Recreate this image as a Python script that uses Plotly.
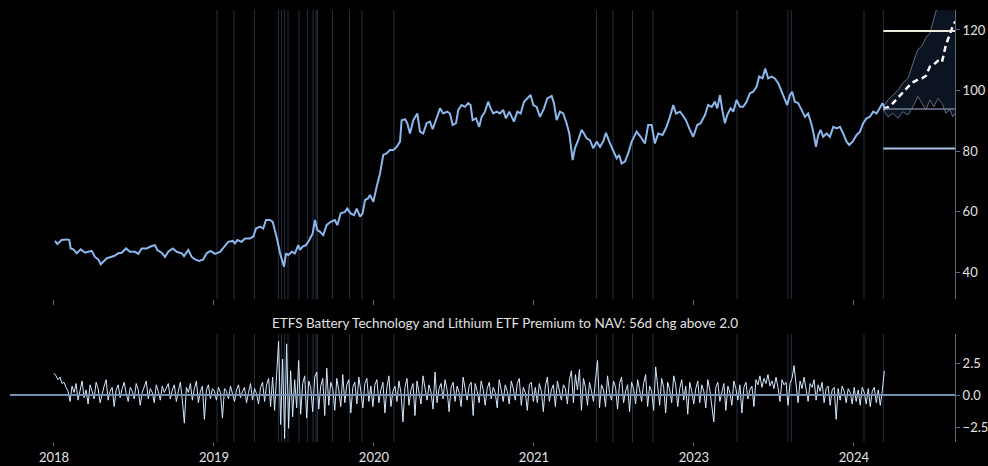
import numpy as np
import plotly.graph_objects as go

# ---------------- data ----------------
# time axis: 0 = first labelled tick, one unit per labelled period
tick_vals = [0, 1, 2, 3, 4, 5]
tick_text = ["2018", "2019", "2020", "2021", "2023", "2024"]

price_t = [0.006, 0.021, 0.048, 0.079, 0.096, 0.104, 0.121, 0.142, 0.167, 0.194, 0.214, 0.236, 0.256, 0.277,
           0.292, 0.308, 0.329, 0.350, 0.375, 0.402, 0.423, 0.450, 0.475, 0.506, 0.527, 0.548, 0.579, 0.611,
           0.631, 0.646, 0.673, 0.694, 0.714, 0.742, 0.767, 0.798, 0.813, 0.839, 0.861, 0.881, 0.908, 0.933,
           0.954, 0.979, 1.006, 1.038, 1.063, 1.089, 1.117, 1.131, 1.146, 1.173, 1.194, 1.225, 1.246, 1.263,
           1.288, 1.308, 1.325, 1.350, 1.367, 1.381, 1.396, 1.413, 1.429, 1.438, 1.450, 1.464, 1.486, 1.506,
           1.527, 1.538, 1.554, 1.575, 1.596, 1.617, 1.631, 1.646, 1.663, 1.683, 1.704, 1.729, 1.756, 1.771,
           1.792, 1.819, 1.833, 1.854, 1.875, 1.892, 1.913, 1.929, 1.944, 1.964, 1.975, 1.996, 2.017, 2.038,
           2.058, 2.079, 2.100, 2.121, 2.142, 2.163, 2.173, 2.194, 2.208, 2.225, 2.246, 2.271, 2.288, 2.308,
           2.329, 2.350, 2.367, 2.392, 2.413, 2.433, 2.458, 2.475, 2.492, 2.513, 2.527, 2.548, 2.569, 2.589,
           2.604, 2.617, 2.638, 2.658, 2.673, 2.694, 2.714, 2.729, 2.746, 2.767, 2.788, 2.808, 2.825, 2.846,
           2.861, 2.875, 2.896, 2.917, 2.938, 2.964, 2.979, 2.996, 3.017, 3.038, 3.063, 3.083, 3.111, 3.125,
           3.142, 3.163, 3.183, 3.204, 3.221, 3.242, 3.256, 3.277, 3.298, 3.313, 3.329, 3.350, 3.371, 3.392,
           3.413, 3.433, 3.450, 3.471, 3.496, 3.517, 3.533, 3.548, 3.569, 3.589, 3.611, 3.642, 3.667, 3.694,
           3.714, 3.736, 3.756, 3.777, 3.804, 3.829, 3.850, 3.871, 3.888, 3.913, 3.929, 3.950, 3.975, 3.996,
           4.021, 4.042, 4.069, 4.089, 4.111, 4.131, 4.146, 4.163, 4.179, 4.194, 4.208, 4.229, 4.246, 4.267,
           4.288, 4.308, 4.329, 4.350, 4.371, 4.392, 4.408, 4.429, 4.446, 4.464, 4.486, 4.506, 4.527, 4.548,
           4.569, 4.583, 4.600, 4.614, 4.631, 4.652, 4.673, 4.694, 4.714, 4.736, 4.750, 4.763, 4.777, 4.792,
           4.808, 4.829, 4.850, 4.871, 4.892, 4.913, 4.933, 4.954, 4.971, 4.992, 5.017, 5.038, 5.058, 5.079,
           5.100, 5.121, 5.142, 5.163, 5.179, 5.194]
price_v = [50.3, 49.3, 50.6, 50.8, 50.6, 47.8, 47.5, 46.2, 47.5, 46.4, 46.7, 47.0, 45.0, 44.2,
           42.6, 43.4, 44.5, 44.9, 45.3, 46.2, 46.4, 47.8, 46.7, 46.7, 46.0, 47.8, 47.8, 48.6,
           48.9, 47.3, 46.4, 45.0, 46.7, 47.8, 46.7, 46.2, 45.3, 47.3, 45.0, 44.2, 43.7, 44.2,
           46.2, 47.0, 46.0, 46.7, 48.2, 50.0, 50.3, 49.5, 50.6, 50.0, 51.1, 51.1, 51.7, 54.4,
           55.0, 54.4, 57.2, 57.2, 56.6, 53.9, 50.6, 46.2, 42.9, 41.8, 46.2, 45.6, 46.7, 46.2,
           48.9, 47.3, 48.4, 48.9, 50.6, 52.8, 57.2, 53.9, 53.3, 52.2, 55.5, 56.6, 57.2, 55.5,
           59.4, 59.9, 61.0, 59.4, 58.8, 61.0, 58.3, 59.4, 63.8, 64.4, 65.5, 63.2, 68.2, 72.6,
           78.7, 79.2, 80.3, 80.3, 81.4, 83.1, 90.2, 90.5, 89.2, 85.8, 90.2, 92.4, 86.4, 85.8,
           89.2, 89.7, 87.2, 90.8, 94.1, 92.4, 93.0, 92.4, 88.6, 89.2, 93.6, 95.2, 94.6, 95.8,
           95.2, 90.2, 90.8, 88.0, 91.3, 93.0, 96.3, 94.1, 92.4, 93.0, 92.4, 93.6, 90.8, 93.0,
           91.3, 89.7, 93.0, 92.4, 96.3, 97.9, 98.5, 95.2, 94.6, 91.3, 94.1, 97.4, 98.2, 95.8,
           90.2, 93.0, 92.4, 89.2, 85.8, 77.0, 80.9, 83.6, 87.0, 85.8, 84.2, 83.6, 80.9, 83.1,
           81.4, 83.1, 86.0, 83.1, 79.8, 77.6, 78.7, 75.9, 76.5, 79.2, 83.1, 86.4, 84.7, 82.5,
           88.6, 88.6, 82.5, 85.8, 85.3, 88.0, 91.3, 95.2, 92.4, 93.0, 91.9, 90.2, 87.0, 84.7,
           88.6, 89.2, 91.9, 95.2, 94.6, 96.3, 94.1, 98.5, 93.0, 89.2, 91.9, 94.1, 93.0, 96.9,
           94.6, 94.6, 96.3, 99.1, 99.6, 101.3, 104.6, 104.0, 107.3, 104.0, 104.6, 104.0, 102.4, 99.6,
           96.9, 95.2, 98.5, 99.6, 96.3, 95.8, 93.6, 91.3, 92.4, 88.6, 85.3, 81.4, 85.3, 87.0,
           84.7, 85.8, 84.7, 88.0, 87.5, 88.0, 85.8, 83.1, 82.0, 83.1, 85.3, 86.4, 89.2, 90.8,
           91.3, 93.0, 92.4, 94.6, 95.8, 94.1]

fc_t = [5.184, 5.213, 5.244, 5.275, 5.306, 5.338, 5.369, 5.400, 5.425, 5.450, 5.475, 5.500, 5.525,
        5.550, 5.575, 5.600, 5.619, 5.634]
fc_upper = [94.6, 96.9, 98.5, 100.0, 102.5, 104.0, 109.0, 113.6, 114.6, 117.5, 118.9, 124.0, 128.5,
            131.0, 133.0, 135.0, 136.0, 137.0]
fc_median = [93.8, 94.5, 95.8, 97.6, 99.5, 101.2, 102.7, 103.6, 104.0, 104.8, 107.9, 108.6, 109.8,
             109.3, 115.0, 118.9, 121.4, 122.8]
fc_lower = [93.6, 91.3, 92.5, 90.8, 93.0, 91.9, 94.6, 98.0, 95.8, 93.6, 96.9, 94.6, 97.4,
            95.8, 92.5, 93.6, 91.3, 92.5]

level_high = 119.7
level_mid = 93.9
level_low = 80.8

event_t = [1.019, 1.125, 1.253, 1.403, 1.422, 1.441, 1.463, 1.531, 1.584, 1.619, 1.638, 1.647,
           1.741, 1.847, 1.925, 2.125, 3.391, 3.494, 3.616, 3.744, 4.269, 4.588, 4.609, 5.063, 5.184]

premium_chg = [
    # 2018
    1.7, 1.5, 1.2, 1.4, 0.9, 1.0, 0.6, 0.3, -0.5, 0.7,
    0.2, 0.9, -0.4, 0.5, 1.1, -0.2, 0.4, -0.7, 0.8, 0.3,
    -0.3, 1.0, 0.5, -0.6, 0.2, 0.7, 1.2, -0.4, 0.3, 0.6,
    -0.9, 0.4, 0.8, -0.2, 0.5, 1.0, 0.1, -0.5, 0.6, 0.3,
    -0.3, 0.9, 0.4, -0.8, 0.2, 0.6, 1.1, -0.3, 0.5, 0.2,
    -0.6, 0.8, 0.3, -0.4, 0.7, 0.2, 0.5, 0.9, -0.3, 0.4,
    0.8, -0.5, 0.3, 1.0, -0.4, -2.2, 0.6, 0.2, 0.9, -0.4,
    0.5, 1.1, -0.6, 0.3, 0.7, -1.9, 0.4, 0.8, -0.3, 0.5,
    # 2019
    0.3, -0.4, 0.6, 0.2, -1.8, 0.5, 0.3, -0.3, 0.7, 0.1,
    -0.5, 0.4, 0.8, -0.2, 0.3, 0.6, -0.6, 0.2, 0.9, -0.4,
    0.5, 0.1, -0.7, 0.6, 1.0, -0.5, 0.8, 1.3, -0.9, 1.4,
    -1.2, 1.6, 4.2, -2.3, 2.8, -3.4, 4.0, -2.6, 1.9, -1.7,
    1.2, -1.0, 2.7, -1.5, 0.9, 1.5, -1.8, 1.1, 0.6, -1.3,
    1.4, 1.8, -1.1, 0.7, 1.3, -1.6, 2.1, -0.8, 1.0, 0.5,
    -1.2, 1.3, 0.4, -0.9, 1.6, -0.6, 0.8, 1.2, -1.4, 0.6,
    1.0, -0.7, 1.4, 0.3, -1.0, 0.9, 1.3, -0.5, 0.7, -0.9,
    # 2020
    0.8, 1.2, -0.6, 0.4, 1.0, -1.4, 0.6, 1.5, -0.9, 0.3,
    0.7, -0.5, 1.1, 0.2, -2.1, 0.6, 1.3, -0.8, 0.4, 0.9,
    -1.6, 1.1, 0.3, -0.7, 1.5, 0.5, -0.4, 0.8, 0.2, -1.1,
    1.8, -0.6, 0.5, 0.9, -0.3, 1.2, 0.4, -1.3, 0.6, 1.0,
    -0.5, 0.7, 0.2, -0.9, 1.4, 0.5, -0.4, 0.7, 1.0, -1.6,
    0.9, 0.3, -0.6, 1.1, 0.4, -0.8, 0.5, 1.0, -0.3, 0.6,
    0.2, -1.0, 1.2, 0.4, -0.5, 0.8, 0.3, -0.7, 1.1, 0.5,
    -0.4, 0.9, 1.3, -0.8, 0.6, 0.2, -1.2, 0.8, 1.0, -0.5,
    # 2021
    0.6, -0.6, 0.9, 0.3, -1.3, 0.7, 1.4, -0.5, 0.4, 0.8,
    -0.9, 1.1, 0.2, -0.4, 0.8, 0.5, -0.7, 1.2, 1.9, -0.6,
    1.6, 0.4, 2.0, -1.2, 1.3, 0.6, -0.8, 1.0, 0.3, -0.5,
    1.2, 2.7, -1.0, 0.8, 0.4, -0.9, 1.5, 0.2, -0.4, 1.1,
    0.6, -1.1, 0.9, 1.4, -0.6, 0.3, 0.8, -1.3, 1.0, 0.5,
    -0.7, 1.2, 0.4, -0.5, 0.9, 1.6, -0.9, 0.7, 0.3, -1.2,
    2.2, 0.5, -0.8, 1.3, 0.6, -1.4, 1.0, 0.4, -0.6, 1.5,
    0.8, -0.9, 0.5, 1.2, -0.4, 0.7, -1.5, 1.0, 0.3, -0.7,
    # 2023 label period
    0.5, 1.1, -0.6, 0.8, 0.3, -1.0, 1.2, 0.4, -0.7, -2.1,
    0.6, 1.0, -0.5, 0.3, 0.9, -1.2, 0.7, 0.2, -0.8, 1.1,
    0.5, -0.4, 0.8, -1.4, 0.6, 1.0, -0.3, 0.4, 0.7, -0.9,
    1.2, 0.8, 1.5, 0.6, 1.3, 0.9, 1.6, 0.7, 1.1, 0.5,
    1.4, 0.6, -0.5, 1.2, 0.8, 1.0, -0.8, 0.9, 1.3, 2.3,
    0.7, -0.6, 1.1, 0.5, 1.4, 0.3, -0.5, 0.9, 0.6, 1.2,
    -0.4, 0.8, 0.3, 1.0, -0.6, 0.5, 0.7, -0.8, 0.4, 0.6,
    -1.9, 0.5, -0.4, 0.7, 0.3, -0.6, 0.5, 0.2, -0.7, 0.6,
    # 2024
    -0.5, 0.4, -0.8, 0.6, 0.2, -0.7, 0.5, -0.9, 0.3, 0.6,
    -0.6, 0.4, -0.8, 0.3, 1.9,
]
premium_start = 0.0
premium_end = 5.19

title_text = "ETFS Battery Technology and Lithium ETF Premium to NAV: 56d chg above 2.0"

# ---------------- figure ----------------
FONT = "Lato, 'Open Sans', sans-serif"
TXT = "#e2e2e2"
AX = "#5a687c"
EVT = "#243040"

premium_t = np.linspace(premium_start, premium_end, len(premium_chg))
x_range = [-0.275, 5.632]

fig = go.Figure()

# forecast cone
fig.add_trace(go.Scatter(x=fc_t, y=fc_lower, mode="lines", line=dict(color="#5d6b80", width=1),
                         xaxis="x", yaxis="y", showlegend=False, hoverinfo="skip"))
fig.add_trace(go.Scatter(x=fc_t, y=fc_upper, mode="lines", line=dict(color="#5d6b80", width=1),
                         fill="tonexty", fillcolor="#0c1422",
                         xaxis="x", yaxis="y", showlegend=False, hoverinfo="skip"))

# main price line
fig.add_trace(go.Scatter(x=price_t, y=price_v, mode="lines", line=dict(color="#8cb7ec", width=2),
                         xaxis="x", yaxis="y", showlegend=False))

# forecast median
fig.add_trace(go.Scatter(x=fc_t, y=fc_median, mode="lines",
                         line=dict(color="#ffffff", width=2.5, dash="6px,4px"),
                         xaxis="x", yaxis="y", showlegend=False))

# premium change series
fig.add_trace(go.Scatter(x=premium_t, y=premium_chg, mode="lines", line=dict(color="#d4eaff", width=1),
                         xaxis="x2", yaxis="y2", showlegend=False))

shapes = []
for t in event_t:
    shapes.append(dict(type="line", xref="x", yref="y domain", x0=t, x1=t, y0=0, y1=1,
                       line=dict(color=EVT, width=1), layer="below"))
    shapes.append(dict(type="line", xref="x2", yref="y2 domain", x0=t, x1=t, y0=0, y1=1,
                       line=dict(color=EVT, width=1), layer="below"))

# level lines in forecast zone
fc_x0 = fc_t[0]
shapes.append(dict(type="line", xref="x", yref="y", x0=fc_x0, x1=x_range[1], y0=level_high, y1=level_high,
                   line=dict(color="#ecebdc", width=2)))
shapes.append(dict(type="line", xref="x", yref="y", x0=fc_x0, x1=x_range[1], y0=level_mid, y1=level_mid,
                   line=dict(color="#6f7f96", width=1.5)))
shapes.append(dict(type="line", xref="x", yref="y", x0=fc_x0, x1=x_range[1], y0=level_low, y1=level_low,
                   line=dict(color="#a9c4e8", width=2)))
# zero line of lower panel
shapes.append(dict(type="line", xref="x2 domain", yref="y2", x0=0, x1=1, y0=0, y1=0,
                   line=dict(color="#7891b3", width=2)))

fig.update_layout(
    width=988, height=466,
    margin=dict(l=10, r=33, t=10, b=24, autoexpand=False),
    paper_bgcolor="#000000", plot_bgcolor="#000000",
    font=dict(family=FONT, color=TXT, size=13),
    shapes=shapes,
    xaxis=dict(domain=[0, 1], anchor="y", range=x_range, tickvals=tick_vals, ticktext=tick_text,
               showticklabels=False, ticks="outside", ticklen=5, tickcolor=AX, showgrid=False,
               zeroline=False, showline=False, automargin=False),
    yaxis=dict(domain=[0.331, 1], anchor="x", side="right", range=[31.1, 126.6],
               tickvals=[40, 60, 80, 100, 120], ticks="outside", ticklen=4, tickcolor=AX,
               showline=True, linecolor=AX, linewidth=1, showgrid=False, zeroline=False,
               tickfont=dict(size=13, color=TXT), automargin=False),
    xaxis2=dict(domain=[0, 1], anchor="y2", range=x_range, tickvals=tick_vals, ticktext=tick_text,
                ticks="outside", ticklen=3, tickcolor=AX, showgrid=False, zeroline=False,
                showline=False, tickfont=dict(size=13, color=TXT), automargin=False),
    yaxis2=dict(domain=[0, 0.25], anchor="x2", side="right", range=[-3.67, 4.77],
                tickvals=[-2.5, 0, 2.5], tickformat=".1f", ticks="outside", ticklen=4, tickcolor=AX,
                showline=True, linecolor=AX, linewidth=1, showgrid=False, zeroline=False,
                tickfont=dict(size=13, color=TXT), automargin=False),
    annotations=[dict(text=title_text, xref="paper", yref="paper", x=0.5243, y=0.2755,
                      xanchor="center", yanchor="middle", showarrow=False,
                      font=dict(size=13.5, color=TXT))],
)

fig.write_html("out.html",
               config={"displayModeBar": False},
               post_script="document.body.style.margin='0';document.body.style.padding='0';"
                           "document.body.style.overflow='hidden';document.body.style.background='#000';")
